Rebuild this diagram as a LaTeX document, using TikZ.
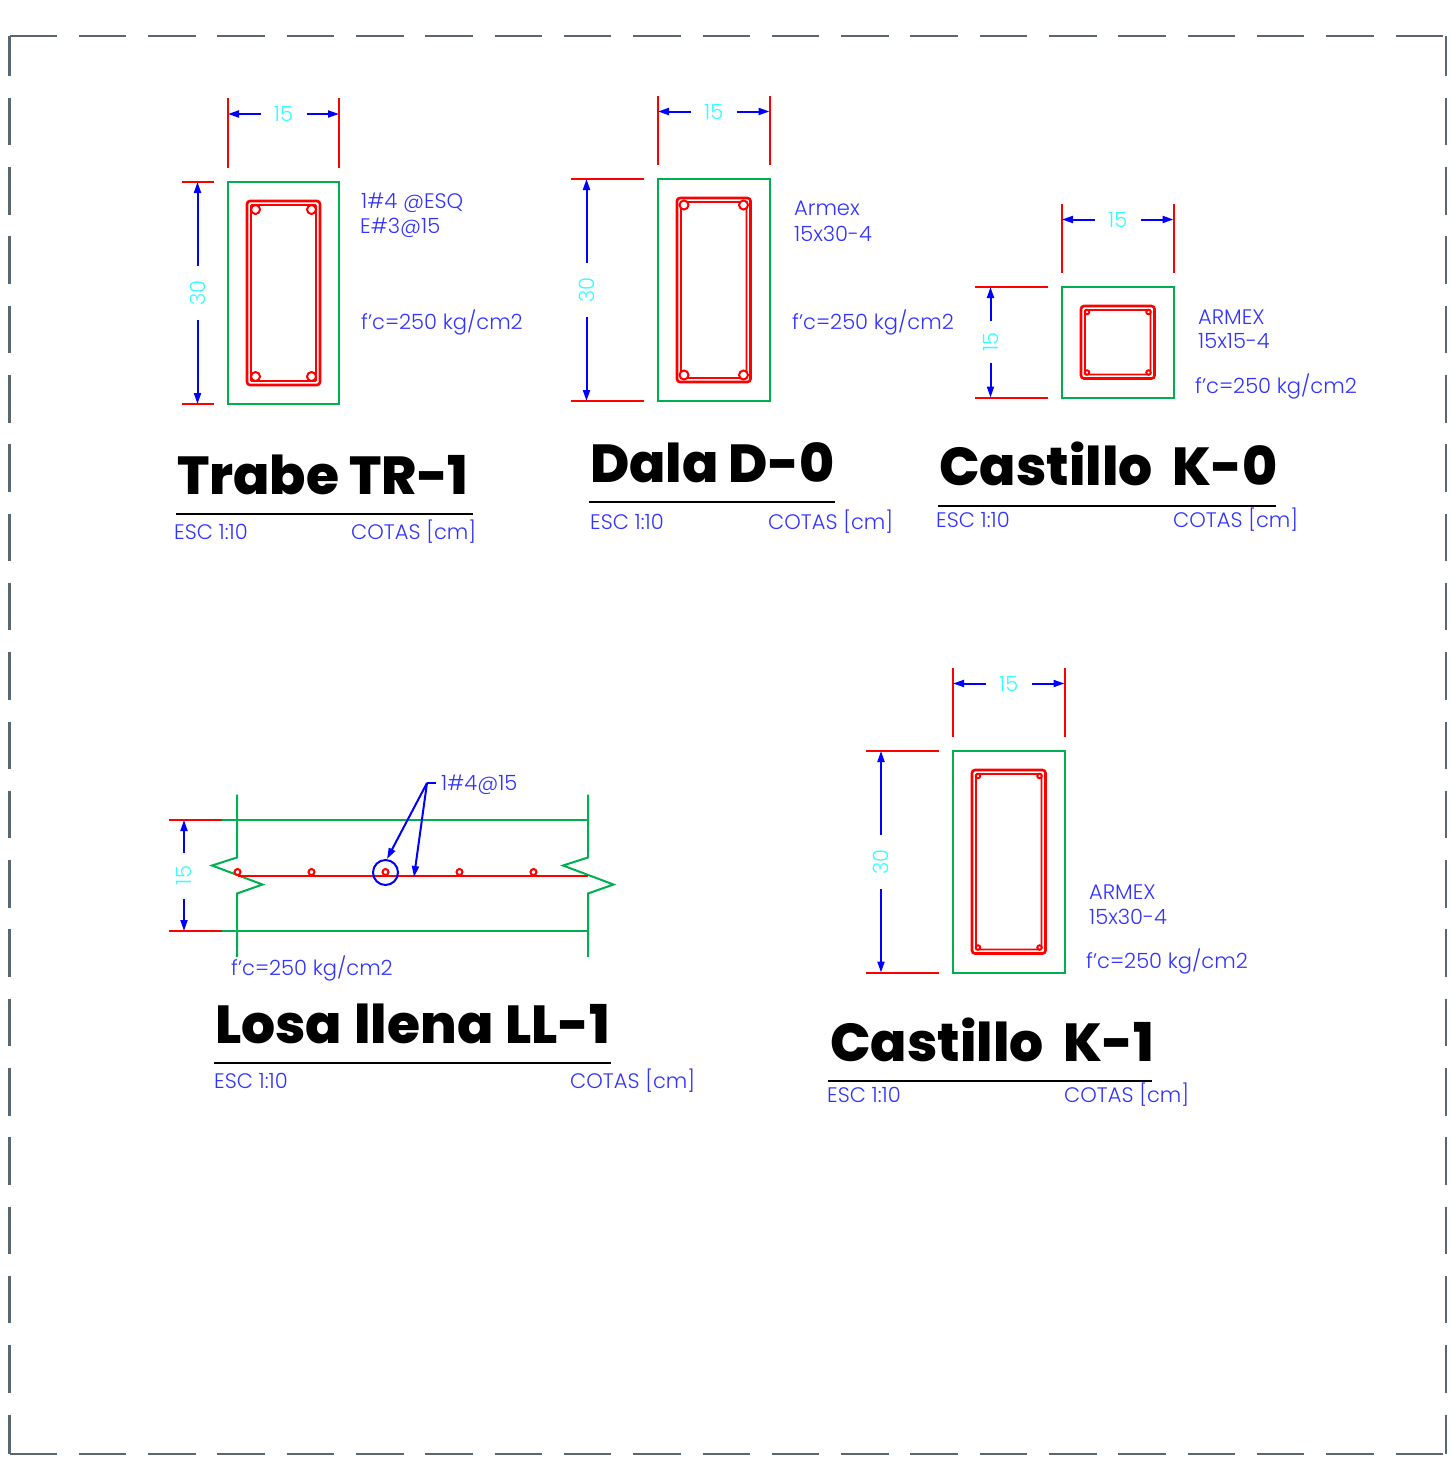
\documentclass[tikz,border=0pt]{standalone}
\usepackage{fontspec}
\usetikzlibrary{arrows.meta}
\setmainfont{Poppins}[UprightFont=* Light,BoldFont=* ExtraBold]
\definecolor{grn}{HTML}{00B050}
\definecolor{rd}{HTML}{FF0000}
\definecolor{bl}{HTML}{0000FF}
\definecolor{tb}{HTML}{3333FF}
\definecolor{cy}{HTML}{33FFFF}
\definecolor{brd}{HTML}{5B6770}
\newcommand\ap{\char"0027\relax}
\tikzset{
 x=1pt,y=-1pt,
 conc/.style={draw=grn,line width=2pt},
 redl/.style={draw=rd,line width=2pt},
 bar/.style={draw=rd,line width=2pt,fill=white},
 dimarrow/.style={draw=bl,line width=2pt,-{Triangle[length=11pt,width=7pt]}},
 dimtext/.style={text=cy,font=\fontsize{21}{21}\selectfont,inner sep=0pt},
 note/.style={text=tb,font=\fontsize{21}{24}\selectfont,inner sep=0pt,anchor=base west},
 ttl/.style={text=black,font=\bfseries\fontsize{53.5}{53.5}\selectfont,inner sep=0pt,anchor=base west},
 rule/.style={draw=black,line width=2pt},
 frame/.style={draw=brd,line width=2.6pt,dash pattern=on 47.5pt off 21.8pt},
}
% x1 y1 x2 y2 extTop tickLeft barR barInset vlabel
\newcommand\crosssec[9]{%
 \path[conc] (#1,#2) rectangle (#3,#4);
 \draw[redl] (#1,#5) -- (#1,#2-14.5);
 \draw[redl] (#3,#5) -- (#3,#2-14.5);
 \draw[redl] (#6,#2) -- (#1-14,#2);
 \draw[redl] (#6,#4) -- (#1-14,#4);
 \node[dimtext] at ({(#1+#3)/2},#5+16) {15};
 \draw[dimarrow] ({(#1+#3)/2-23},#5+16) -- (#1,#5+16);
 \draw[dimarrow] ({(#1+#3)/2+23},#5+16) -- (#3,#5+16);
 \node[dimtext,rotate=90] at (#6+15.5,{(#2+#4)/2}) {#9};
 \pgfmathsetmacro\vg{#9==30?27:21}
 \draw[dimarrow] (#6+15.5,{(#2+#4)/2-\vg}) -- (#6+15.5,#2);
 \draw[dimarrow] (#6+15.5,{(#2+#4)/2+\vg}) -- (#6+15.5,#4);
 \draw[redl,rounded corners=3pt,line width=2.6pt] (#1+19,#2+19) rectangle (#3-19,#4-19);
 \draw[redl,rounded corners=1pt,line width=1.8pt] (#1+23,#2+23) rectangle (#3-23,#4-23);
 \foreach \bx/\by in {#1+19+#8/#2+19+#8,#3-19-#8/#2+19+#8,#1+19+#8/#4-19-#8,#3-19-#8/#4-19-#8}
   \draw[bar] (\bx,\by) circle (#7);
}
\begin{document}
\begin{tikzpicture}
\useasboundingbox[fill=white] (0,0) rectangle (1452,1475);
% frame
\coordinate (tl) at (9.5,36);
\coordinate (tr) at (1446,36);
\coordinate (bl) at (9.5,1454);
\coordinate (br) at (1446,1454);
\draw[frame] (tl) -- (tr);
\draw[frame,dash phase=7.5pt] (tl) -- (bl);
\draw[frame] (bl) -- (br);
\draw[frame,dash phase=7.5pt] (tr) -- (br);

\crosssec{228}{182}{339}{404}{98}{182}{4.5}{8.5}{30}
\crosssec{658}{179}{769.5}{401}{95.5}{571}{4.5}{7}{30}
\crosssec{1062}{287}{1173.5}{397.5}{203.5}{975}{2.2}{6}{15}
\crosssec{953}{751}{1064.5}{972.5}{667.5}{865.5}{2.2}{6}{30}

% slab
\coordinate (sa) at (222,820);
\coordinate (sb) at (222,931);
\draw[conc] (sa) -- (588,820);
\draw[conc] (sb) -- (588,931);
\draw[conc] (237,794.5) -- (237,857.5) -- (212,865.5) -- (262.5,884.5) -- (237,893.5) -- (237,957);
\draw[conc] (588,794.5) -- (588,857.5) -- (563,865.5) -- (613.5,884.5) -- (588,893.5) -- (588,957);
\draw[redl] (169,820) -- (sa);
\draw[redl] (169,931) -- (sb);
\draw[redl] (238,876) -- (588,876);
\foreach \bx in {237.5,311.5,385.5,459.5,533.5} \draw[bar] (\bx,872) circle (3);
\node[dimtext,rotate=90] (s15) at (184,875.5) {15};
\draw[dimarrow] (184,853) -- (184,820);
\draw[dimarrow] (184,899) -- (184,931);
\draw[draw=bl,line width=2pt] (385.5,872.5) circle (12.5);
\coordinate (lead) at (427,783);
\draw[draw=bl,line width=2pt] (lead) -- (436,783);
\draw[dimarrow] (lead) -- (387,859);
\draw[dimarrow] (lead) -- (414,877);

% notes
\node[note] (n1) at (361,208.5) {1\#4 @ESQ};
\node[note] (n2) at (360,233) {E\#3@15};
\node[note] (n3) at (361,329) {f\ap c=250 kg/cm2};
\node[note] (n4) at (794,215.5) {Armex};
\node[note] (n5) at (794,241) {15x30-4};
\node[note] (n6) at (792,329) {f\ap c=250 kg/cm2};
\node[note] (n7) at (1198,324) {ARMEX};
\node[note] (n8) at (1198,348) {15x15-4};
\node[note] (n9) at (1195,393) {f\ap c=250 kg/cm2};
\node[note] (n10) at (441,790) {1\#4@15};
\node[note] (n11) at (231,975) {f\ap c=250 kg/cm2};
\node[note] (n12) at (1089,899) {ARMEX};
\node[note] (n13) at (1089,924) {15x30-4};
\node[note] (n14) at (1086,968) {f\ap c=250 kg/cm2};

% titles
\node[ttl] (t1) at (177,494) {Trabe TR-1};
\draw[rule] (176,513.5) -- (473,513.5);
\node[note] (e1) at (174,539) {ESC 1:10};
\node[note] (c1) at (351,539) {COTAS [cm]};
\node[ttl] (t2) at (590,482) {Dala D-0};
\draw[rule] (589,501.5) -- (835,501.5);
\node[note] (e2) at (590,529) {ESC 1:10};
\node[note] (c2) at (768,529) {COTAS [cm]};
\node[ttl] (t3) at (939,485) {Castillo\ \ K-0};
\draw[rule] (938,505.5) -- (1276,505.5);
\node[note] (e3) at (936,527) {ESC 1:10};
\node[note] (c3) at (1173,527) {COTAS [cm]};
\node[ttl] (t4) at (215,1043) {Losa\hspace{2pt} llena\hspace{2pt} LL-1};
\draw[rule] (214,1063) -- (611,1063);
\node[note] (e4) at (214,1088) {ESC 1:10};
\node[note] (c4) at (570,1088) {COTAS [cm]};
\node[ttl] (t5) at (830,1061) {Castillo\ \ K-1};
\draw[rule] (828,1080.5) -- (1152,1080.5);
\node[note] (e5) at (827,1102) {ESC 1:10};
\node[note] (c5) at (1064,1102) {COTAS [cm]};
\end{tikzpicture}
\end{document}
